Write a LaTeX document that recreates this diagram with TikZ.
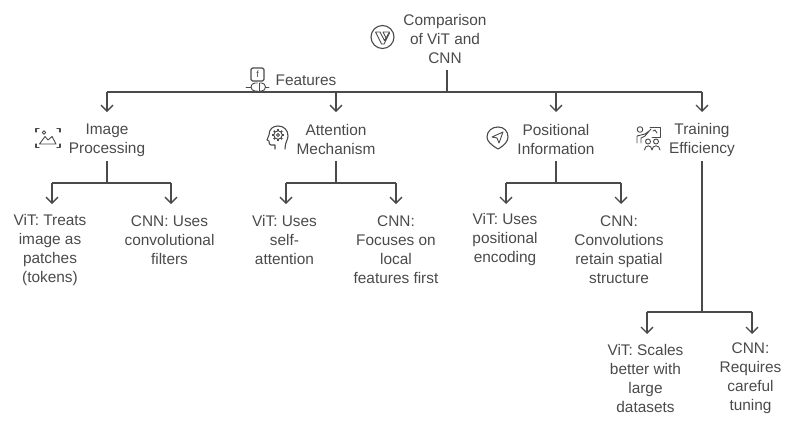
\documentclass[tikz,border=0pt]{standalone}
\usepackage{fontspec}
\setmainfont{Liberation Sans}
\usetikzlibrary{arrows.meta,calc}
\definecolor{ink}{HTML}{4A4A4A}
\tikzset{
  x=1pt,y=-1pt,
  lbl/.style={inner sep=0pt,align=center,text=ink,font=\fontsize{15.4}{19}\selectfont},
  conn/.style={draw=ink,line width=1.4pt},
  arr/.style={conn,-{Straight Barb[length=6pt,width=12pt,line width=1.3pt]}},
  ico/.style={draw=ink,line width=1.1pt,fill=none,line join=round,line cap=round},
  thin ico/.style={ico,line width=.9pt},
}
\begin{document}
\begin{tikzpicture}
\useasboundingbox (0,0) rectangle (800,424);
% nodes
\node[lbl] (root) at (445,38.5) {Comparison\\of ViT and\\CNN};
\node[lbl] (feat) at (306,80) {Features};
\node[lbl] (ip) at (107,140.5) {Image\\Processing};
\node[lbl] (am) at (336,139) {Attention\\Mechanism};
\node[lbl] (pi) at (556,139) {Positional\\Information};
\node[lbl] (te) at (702,140.5) {Training\\Efficiency};
\node[lbl] (ip1) at (50,250) {ViT: Treats\\image as\\patches\\(tokens)};
\node[lbl] (ip2) at (169.5,240) {CNN: Uses\\convolutional\\filters};
\node[lbl] (am1) at (284.5,240) {ViT: Uses\\self-\\attention};
\node[lbl] (am2) at (396,249.5) {CNN:\\Focuses on\\local\\features first};
\node[lbl] (pi1) at (505,240) {ViT: Uses\\positional\\encoding};
\node[lbl] (pi2) at (619,249.5) {CNN:\\Convolutions\\retain spatial\\structure};
\node[lbl] (te1) at (645.5,378) {ViT: Scales\\better with\\large\\datasets};
\node[lbl] (te2) at (750.5,378) {CNN:\\Requires\\careful\\tuning};
% bus coordinates
\coordinate (b0) at (447,92);
\coordinate (b1) at (107,183);
\coordinate (b2) at (336,183);
\coordinate (b3) at (556,183);
\coordinate (b4) at (702,312);
\coordinate (s1) at (107,161); \coordinate (s2) at (336,161);
\coordinate (s3) at (556,161); \coordinate (s4) at (702,161);
\coordinate (e1) at (107,112); \coordinate (e2) at (336,112);
\coordinate (e3) at (556,112); \coordinate (e4) at (702,112);
% connectors
\draw[conn] (447,70) -- (b0);
\draw[conn] (e1 |- b0) -- (e4 |- b0);
\draw[arr] (e1 |- b0) -- (e1);
\draw[arr] (e2 |- b0) -- (e2);
\draw[arr] (e3 |- b0) -- (e3);
\draw[arr] (e4 |- b0) -- (e4);
\draw[conn] (s1) -- (b1);
\draw[conn] (s2) -- (b2);
\draw[conn] (s3) -- (b3);
\draw[conn] (s4) -- (b4);
\coordinate (t1) at (52,204); \coordinate (t2) at (171,204);
\coordinate (t3) at (286,204); \coordinate (t4) at (396,204);
\coordinate (t5) at (506,204); \coordinate (t6) at (621,204);
\coordinate (t7) at (647,334); \coordinate (t8) at (752,334);
\draw[conn] (t1 |- b1) -- (t2 |- b1);
\draw[conn] (t3 |- b2) -- (t4 |- b2);
\draw[conn] (t5 |- b3) -- (t6 |- b3);
\draw[conn] (t7 |- b4) -- (t8 |- b4);
\draw[arr] (t1 |- b1) -- (t1);
\draw[arr] (t2 |- b1) -- (t2);
\draw[arr] (t3 |- b2) -- (t3);
\draw[arr] (t4 |- b2) -- (t4);
\draw[arr] (t5 |- b3) -- (t5);
\draw[arr] (t6 |- b3) -- (t6);
\draw[arr] (t7 |- b4) -- (t7);
\draw[arr] (t8 |- b4) -- (t8);
% root icon
\draw[ico] (382.5,37) circle (11.5);
\draw[thin ico] (375.5,32) -- (380,32) -- (384.5,40.5) -- (386,38) (375.5,32) -- (381.5,44) -- (384,44) -- (389.5,33);
\draw[thin ico] (383,32) -- (389.5,32) -- (386,38) -- cycle;
% features icon
\draw[ico,rounded corners=1.5pt] (251,68) rectangle (264,81);
\node[inner sep=0pt,text=ink,font=\fontsize{9}{9}\selectfont] at (257.5,74.5) {f};
\draw[thin ico] (246,87) -- (251,87) (265.5,87) -- (269,87);
\draw[thin ico] (257.5,83) -- (255,83) arc (270:90:4) -- (257.5,91);
\draw[thin ico] (259.5,83) -- (261.5,83) arc (-90:90:4) -- (259.5,91) -- cycle;
% image icon
\draw[ico] (36,132) -- (36,128.5) -- (39,128.5) (57,128.5) -- (60,128.5) -- (60,132) (36,144) -- (36,147.5) -- (39,147.5) (57,147.5) -- (60,147.5) -- (60,144);
\draw[thin ico] (39.5,144) -- (45,136.5) -- (48,140) -- (52,136.5) -- (56,144) -- cycle (44,132.5) circle (1.7);
% head icon
\draw[ico] (275,149) -- (275,145) -- (271,145) .. controls (269.5,145) and (269,143.5) .. (269,141) -- (267,140) -- (269,135) .. controls (269,129) and (273,126) .. (278,126) .. controls (284,126) and (288,130) .. (288,136) .. controls (288,140) and (285,142) .. (285,149);
\draw[thin ico] (278,135) circle (4.2);
\draw[thin ico] (278,135) circle (1.6);
\foreach \a in {0,45,...,315}{\draw[ico,line width=1.5pt,line cap=butt] ($(278,135)+(\a:-4)$) -- ($(278,135)+(\a:-6)$);}
% pin icon
\draw[ico] (498,149) .. controls (491,145) and (487,141) .. (487,137) .. controls (487,131) and (492,127) .. (498,127) .. controls (504,127) and (508,131) .. (508,137) .. controls (508,141) and (505,145) .. (498,149) -- cycle;
\draw[thin ico] (492,137) -- (503,132) -- (499,143) -- (497,138) -- cycle;
% training icon
\draw[thin ico] (640,129.5) circle (2.8);
\draw[thin ico] (637,143) -- (637,136) -- (645,134) -- (649,131) (641,143) -- (641,138) -- (645,136) -- (651,129);
\draw[thin ico] (650,127) -- (660,127) -- (660,137) -- (652,137);
\draw[thin ico] (653,131) -- (655,130) -- (657,133);
\draw[thin ico] (648,141.5) circle (2.5) (656,141.5) circle (2.5);
\draw[thin ico] (644.5,150) .. controls (644.5,144.5) and (652,144.5) .. (652,150) .. controls (652,144.5) and (660,144.5) .. (660,150);
\end{tikzpicture}
\end{document}
